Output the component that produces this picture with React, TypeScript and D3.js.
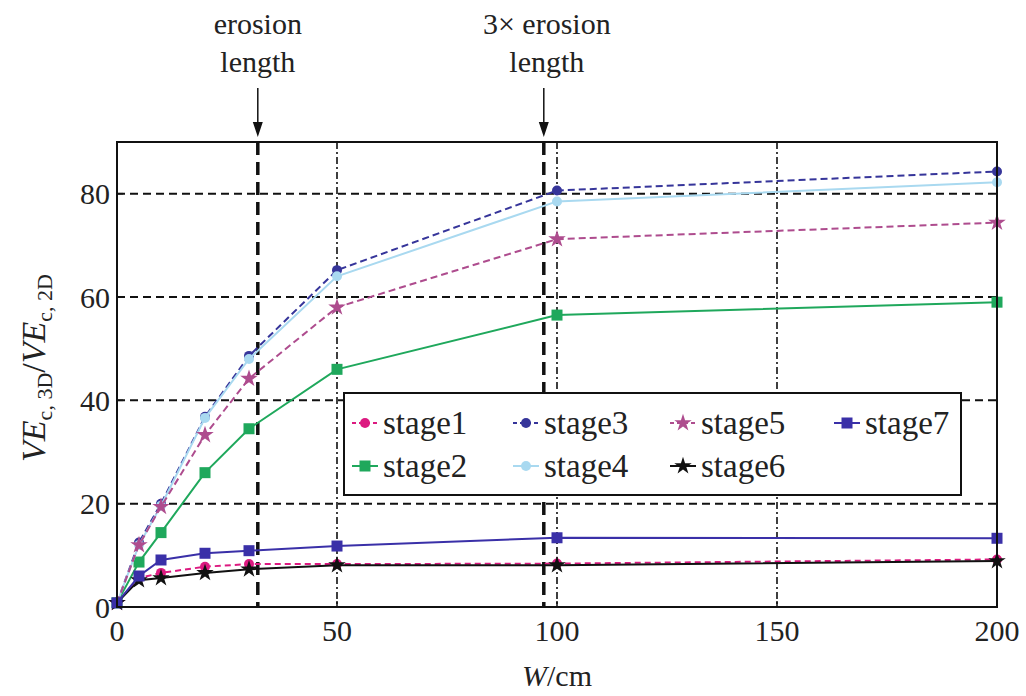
import * as d3 from 'd3';

const W = 1026;
const H = 696;

// sampled widths (cm)
const widths = [0, 5, 10, 20, 30, 50, 100, 200];

const stage1 = [0.8, 5.6, 6.6, 7.8, 8.3, 8.3, 8.4, 9.2];
const stage2 = [0.8, 8.7, 14.4, 26, 34.5, 46, 56.5, 59];
const stage3 = [0.8, 12.5, 20, 36.8, 48.6, 65.2, 80.6, 84.3];
const stage4 = [0.8, 12, 19.6, 36.6, 48, 64, 78.5, 82.2];
const stage5 = [0.8, 12, 19.4, 33.3, 44.2, 58, 71.2, 74.4];
const stage6 = [0.8, 5.2, 5.6, 6.6, 7.3, 8.1, 8.1, 8.9];
const stage7 = [0.8, 6, 9.1, 10.4, 10.9, 11.8, 13.4, 13.3];

const xTicks = [0, 50, 100, 150, 200];
const yTicks = [0, 20, 40, 60, 80];
const erosionMarks = [32, 97];

const series = [
  { name: 'stage1', values: stage1, color: '#dc1a80', dash: '6,4', marker: 'circle' },
  { name: 'stage2', values: stage2, color: '#1fa85c', dash: null, marker: 'square' },
  { name: 'stage3', values: stage3, color: '#36359a', dash: '7,4', marker: 'circle' },
  { name: 'stage4', values: stage4, color: '#a9d9f0', dash: null, marker: 'circle' },
  { name: 'stage5', values: stage5, color: '#ae4c8e', dash: '7,4', marker: 'star' },
  { name: 'stage6', values: stage6, color: '#111111', dash: null, marker: 'star' },
  { name: 'stage7', values: stage7, color: '#3a30a8', dash: null, marker: 'square' },
];

const legendOrder = [
  ['stage1', 'stage3', 'stage5', 'stage7'],
  ['stage2', 'stage4', 'stage6'],
];

const font = "'Liberation Serif', 'DejaVu Serif', serif";

function Marker({ kind, x, y, color }: { kind: string; x: number; y: number; color: string }) {
  if (kind === 'circle') return <circle cx={x} cy={y} r={5} fill={color} />;
  if (kind === 'square') return <rect x={x - 5.5} y={y - 5.5} width={11} height={11} fill={color} />;
  const p = d3.symbol().type(d3.symbolStar).size(95)();
  return <path d={p || ''} transform={`translate(${x},${y})`} fill={color} />;
}

export default function App() {
  const m = { left: 117, right: 997, top: 142, bottom: 607 };
  const x = d3.scaleLinear().domain([0, 200]).range([m.left, m.right]);
  const y = d3.scaleLinear().domain([0, 90]).range([m.bottom, m.top]);

  const line = d3
    .line<number>()
    .x((_, i) => x(widths[i]))
    .y((d) => y(d));

  const legendX = [352, 513, 670, 834];
  const legendY = [423, 466];
  const txt = { fontFamily: font };

  return (
    <svg
      width={W}
      height={H}
      style={{ position: 'absolute', left: 0, top: 0, background: '#fff', fontFamily: font }}
    >
      {/* grid */}
      {yTicks.slice(1).map((t) => (
        <line key={'gy' + t} x1={m.left} x2={m.right} y1={y(t)} y2={y(t)}
          stroke="#111" strokeWidth={2} strokeDasharray="8,5" />
      ))}
      {xTicks.slice(1, -1).map((t) => (
        <line key={'gx' + t} x1={x(t)} x2={x(t)} y1={m.top} y2={m.bottom}
          stroke="#111" strokeWidth={1.6} strokeDasharray="7,3,2,3" />
      ))}
      {erosionMarks.map((t) => (
        <line key={'er' + t} x1={x(t)} x2={x(t)} y1={m.top} y2={m.bottom}
          stroke="#111" strokeWidth={3.5} strokeDasharray="13,7" />
      ))}

      {/* series */}
      {series.map((s) => (
        <g key={s.name}>
          <path d={line(s.values) || ''} fill="none" stroke={s.color} strokeWidth={2}
            strokeDasharray={s.dash || undefined} />
          {s.values.map((v, i) => (
            <Marker key={i} kind={s.marker} x={x(widths[i])} y={y(v)} color={s.color} />
          ))}
        </g>
      ))}

      {/* frame */}
      <rect x={m.left} y={m.top} width={m.right - m.left} height={m.bottom - m.top}
        fill="none" stroke="#111" strokeWidth={2} />

      {/* ticks */}
      {yTicks.map((t) => (
        <g key={'ty' + t}>
          <line x1={m.left} x2={m.left + 6} y1={y(t)} y2={y(t)} stroke="#111" strokeWidth={1.5} />
          <text style={txt} x={m.left - 7} y={y(t)} dy="0.35em" textAnchor="end" fontSize={30} fill="#222">{t}</text>
        </g>
      ))}
      {xTicks.map((t) => (
        <g key={'tx' + t}>
          <line x1={x(t)} x2={x(t)} y1={m.bottom} y2={m.bottom - 6} stroke="#111" strokeWidth={1.5} />
          <text style={txt} x={x(t)} y={m.bottom + 34} textAnchor="middle" fontSize={30} fill="#222">{t}</text>
        </g>
      ))}

      {/* axis titles */}
      <text style={txt} x={557} y={686} textAnchor="middle" fontSize={30} fill="#222">
        <tspan fontStyle="italic">W</tspan>/cm
      </text>
      <text style={txt} transform={`translate(45,368) rotate(-90)`} textAnchor="middle"
        fontSize={34} fill="#222">
        <tspan fontStyle="italic">VE</tspan>
        <tspan fontSize={22} dy={7}>c, 3D</tspan>
        <tspan dy={-7}>/</tspan>
        <tspan fontStyle="italic">VE</tspan>
        <tspan fontSize={22} dy={7}>c, 2D</tspan>
      </text>

      {/* erosion length annotations */}
      {erosionMarks.map((t, i) => (
        <g key={'ann' + t}>
          <line x1={x(t)} x2={x(t)} y1={88} y2={124} stroke="#111" strokeWidth={1.5} />
          <path d={`M${x(t) - 5},${122} L${x(t) + 5},${122} L${x(t)},${137} Z`} fill="#111" />
          <text style={txt} x={x(t) + (i ? 3 : 0)} y={34} textAnchor="middle" fontSize={30} fill="#222">
            {i ? '3\u00d7 erosion' : 'erosion'}
          </text>
          <text style={txt} x={x(t) + (i ? 3 : 0)} y={72} textAnchor="middle" fontSize={30} fill="#222">length</text>
        </g>
      ))}

      {/* legend */}
      <rect x={344} y={393} width={617} height={102} fill="#fff" stroke="#111" strokeWidth={2} />
      {legendOrder.map((row, r) =>
        row.map((name, c) => {
          const s = series.find((d) => d.name === name)!;
          const lx = legendX[c];
          const ly = legendY[r];
          return (
            <g key={name}>
              <line x1={lx} x2={lx + 26} y1={ly} y2={ly} stroke={s.color} strokeWidth={2}
                strokeDasharray={s.dash ? '4,3' : undefined} />
              <Marker kind={s.marker} x={lx + 13} y={ly} color={s.color} />
              <text style={txt} x={lx + 31} y={ly} dy="0.33em" fontSize={33} fill="#222">{name}</text>
            </g>
          );
        })
      )}
    </svg>
  );
}
